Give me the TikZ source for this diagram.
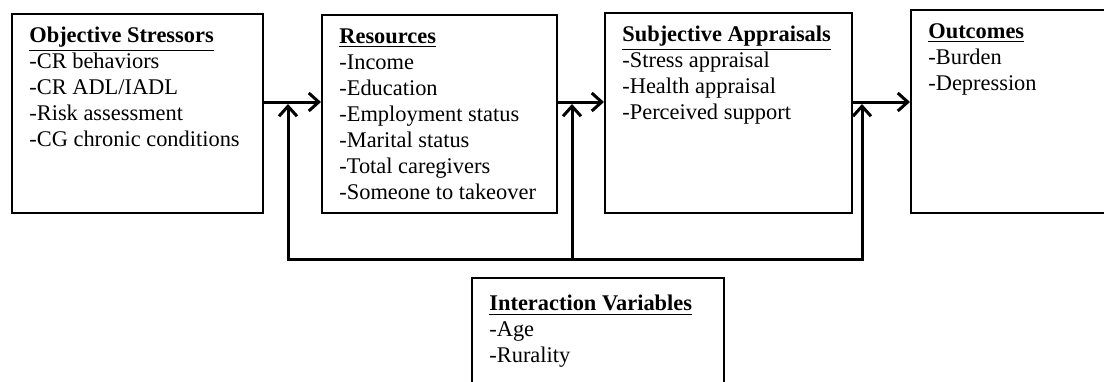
\documentclass[tikz,border=0pt]{standalone}
\usepackage{fontspec}
\setmainfont{Liberation Serif}
\usetikzlibrary{arrows.meta}

\begin{document}
\begin{tikzpicture}[x=0.5pt, y=-0.5pt,
  box/.style={draw, line width=1pt, anchor=north west, inner sep=0pt},
  txt/.style={anchor=north west, align=left, inner sep=0pt,
              font=\fontsize{11.2}{13}\selectfont},
  arr/.style={-{Straight Barb[length=5pt,width=9pt]}, line width=1.5pt},
  twoarr/.style={{Straight Barb[length=5pt,width=9pt]}-{Straight Barb[length=5pt,width=9pt]},
                 line width=1.5pt, line join=miter},
]
\useasboundingbox (0,0) rectangle (1104,381);

% ---- Boxes ----
\node[box, minimum width=125.5pt, minimum height=99.5pt] (obj) at (11,13) {};
\node[box, minimum width=117.5pt, minimum height=99pt] (res) at (321,14) {};
\node[box, minimum width=123.5pt, minimum height=100pt] (subj) at (604,12) {};
\node[box, minimum width=105pt, minimum height=101.5pt] (out) at (910,9) {};
\node[box, minimum width=126pt, minimum height=60pt] (inter) at (471,277) {};

% ---- Box texts ----
\node[txt] (objtxt) at ([shift={(9pt,-7pt)}]obj.north west)
  {\underline{\textbf{Objective Stressors}}\\-CR behaviors\\-CR ADL/IADL\\
   -Risk assessment\\-CG chronic conditions};
\node[txt] (restxt) at ([shift={(9pt,-7pt)}]res.north west)
  {\underline{\textbf{Resources}}\\-Income\\-Education\\-Employment status\\
   -Marital status\\-Total caregivers\\-Someone to takeover};
\node[txt] (subjtxt) at ([shift={(9pt,-7pt)}]subj.north west)
  {\underline{\textbf{Subjective Appraisals}}\\-Stress appraisal\\
   -Health appraisal\\-Perceived support};
\node[txt] (outtxt) at ([shift={(9pt,-7pt)}]out.north west)
  {\underline{\textbf{Outcomes}}\\-Burden\\-Depression};
\node[txt] (intertxt) at ([shift={(9pt,-9pt)}]inter.north west)
  {\underline{\textbf{Interaction Variables}}\\-Age\\-Rurality};

% ---- Main arrows ----
\coordinate (lvl) at (0,102);
\draw[arr] (obj.east |- lvl) -- (res.west |- lvl);
\draw[arr] (res.east |- lvl) -- (subj.west |- lvl);
\draw[arr] (subj.east |- lvl) -- (out.west |- lvl);

% ---- Interaction feedback ----
\coordinate (fbA) at (288,259);
\coordinate (fbB) at (572,259);
\coordinate (fbC) at (862,259);
\draw[twoarr] ([yshift=-1pt]fbA |- lvl) -- (fbA) -- (fbC) -- ([yshift=-1pt]fbC |- lvl);
\draw[arr] (fbB) -- ([yshift=-1pt]fbB |- lvl);

\end{tikzpicture}
\end{document}
